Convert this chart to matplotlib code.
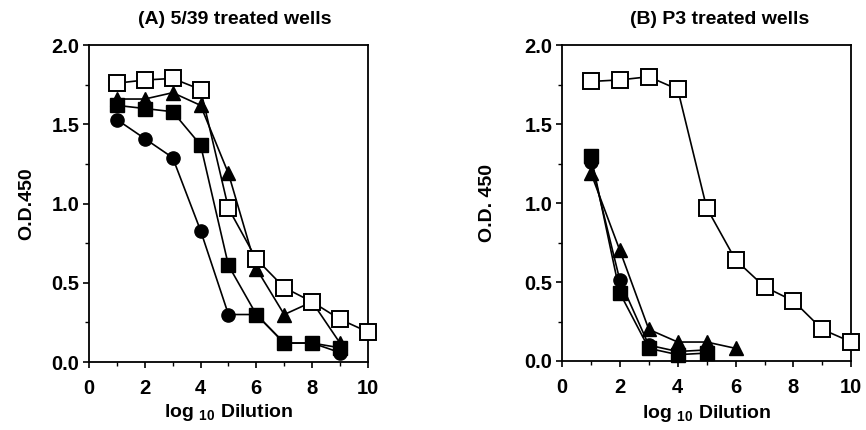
import matplotlib
matplotlib.use("Agg")
import matplotlib.pyplot as plt
from matplotlib.ticker import MultipleLocator

plt.rcParams['font.family'] = ['Liberation Sans', 'DejaVu Sans']
plt.rcParams['font.weight'] = 'bold'
plt.rcParams['mathtext.fontset'] = 'custom'
plt.rcParams['mathtext.rm'] = 'Liberation Sans:bold'
plt.rcParams['mathtext.bf'] = 'Liberation Sans:bold'

# Panel A: 5/39 treated wells
a_open_sq_x = [1, 2, 3, 4, 5, 6, 7, 8, 9, 10]
a_open_sq_y = [1.76, 1.78, 1.79, 1.72, 0.97, 0.65, 0.47, 0.38, 0.27, 0.19]
a_tri_x = [1, 2, 3, 4, 5, 6, 7, 8, 9]
a_tri_y = [1.66, 1.66, 1.70, 1.62, 1.19, 0.59, 0.30, 0.38, 0.12]
a_sq_x = [1, 2, 3, 4, 5, 6, 7, 8, 9]
a_sq_y = [1.62, 1.60, 1.58, 1.37, 0.61, 0.30, 0.12, 0.12, 0.09]
a_circ_x = [1, 2, 3, 4, 5, 6, 7, 8, 9]
a_circ_y = [1.53, 1.41, 1.29, 0.83, 0.30, 0.30, 0.12, 0.12, 0.06]

# Panel B: P3 treated wells
b_open_sq_x = [1, 2, 3, 4, 5, 6, 7, 8, 9, 10]
b_open_sq_y = [1.77, 1.78, 1.80, 1.72, 0.97, 0.64, 0.47, 0.38, 0.20, 0.12]
b_tri_x = [1, 2, 3, 4, 5, 6]
b_tri_y = [1.19, 0.70, 0.20, 0.12, 0.12, 0.08]
b_sq_x = [1, 2, 3, 4, 5]
b_sq_y = [1.30, 0.43, 0.08, 0.04, 0.05]
b_circ_x = [1, 2, 3, 4, 5]
b_circ_y = [1.26, 0.51, 0.10, 0.06, 0.07]

x_ticks = [0, 2, 4, 6, 8, 10]
y_ticks = [0.0, 0.5, 1.0, 1.5, 2.0]

fig = plt.figure(figsize=(8.66, 4.30), dpi=100)
axA = fig.add_axes([0.1028, 0.158, 0.322, 0.737])
axB = fig.add_axes([0.649, 0.1605, 0.334, 0.7345])

lw = 1.2
ms = 11


def draw(ax, circ, sq, tri, osq, title, ylabel, title_x, ylab_x, xlab_y):
    ax.plot(*circ, color='black', lw=lw, marker='o', ms=ms - 1.5,
            mfc='black', mec='black', clip_on=False, zorder=3)
    ax.plot(*sq, color='black', lw=lw, marker='s', ms=ms - 1,
            mfc='black', mec='black', clip_on=False, zorder=4)
    ax.plot(*tri, color='black', lw=lw, marker='^', ms=ms - 0.5,
            mfc='black', mec='black', clip_on=False, zorder=5)
    ax.plot(*osq, color='black', lw=lw, marker='s', ms=ms,
            mfc='white', mec='black', mew=1.4, clip_on=False, zorder=6)
    ax.set_xlim(0, 10)
    ax.set_ylim(0, 2.0)
    ax.set_xticks(x_ticks)
    ax.set_yticks(y_ticks)
    ax.set_yticklabels([f"{v:.1f}" for v in y_ticks])
    ax.xaxis.set_minor_locator(MultipleLocator(1))
    ax.yaxis.set_minor_locator(MultipleLocator(0.25))
    ax.tick_params(which='major', direction='out', length=4, width=1.2,
                   labelsize=14.5)
    ax.tick_params(axis='x', which='major', pad=8)
    ax.tick_params(axis='y', which='major', pad=3)
    ax.tick_params(which='minor', direction='out', length=3, width=1.0)
    for s in ax.spines.values():
        s.set_linewidth(1.3)
    ax.set_xlabel(r"log $_{\mathbf{10}}$ Dilution", fontsize=14,
                  fontweight='bold')
    ax.xaxis.set_label_coords(0.5, xlab_y)
    ax.xaxis.label.set_va('center')
    ax.set_ylabel(ylabel, fontsize=14, fontweight='bold')
    ax.yaxis.set_label_coords(ylab_x, 0.5)
    ax.yaxis.label.set_va('center')
    fig.text(title_x, 1 - 20 / 430, title, fontsize=14, fontweight='bold',
             ha='center', va='center')


draw(axA, (a_circ_x, a_circ_y), (a_sq_x, a_sq_y), (a_tri_x, a_tri_y),
     (a_open_sq_x, a_open_sq_y), "(A) 5/39 treated wells", "O.D.450",
     235 / 866, -0.222, -0.16)
draw(axB, (b_circ_x, b_circ_y), (b_sq_x, b_sq_y), (b_tri_x, b_tri_y),
     (b_open_sq_x, b_open_sq_y), "(B) P3 treated wells", "O.D. 450",
     720 / 866, -0.256, -0.165)

fig.savefig("out.png", dpi=100)
